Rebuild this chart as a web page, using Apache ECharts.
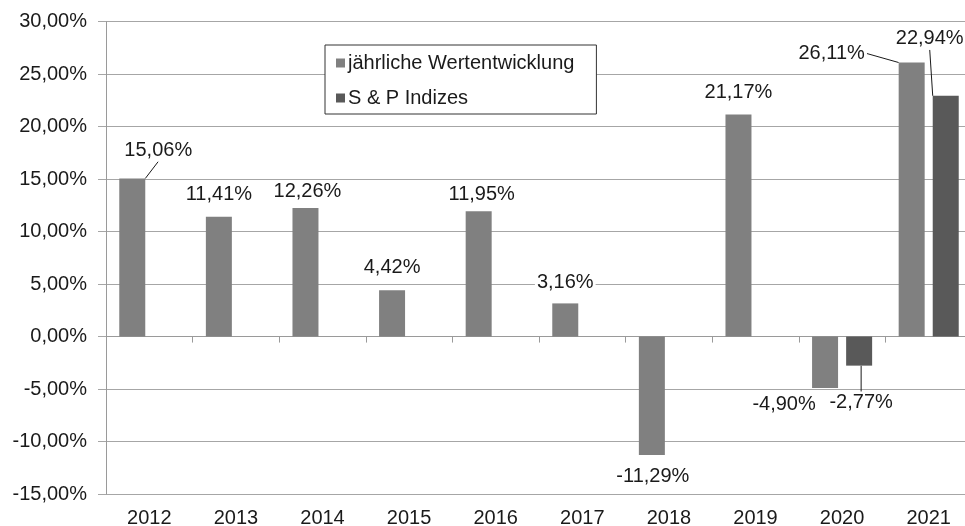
<!DOCTYPE html>
<html>
<head>
<meta charset="utf-8">
<script src="https://cdn.jsdelivr.net/npm/echarts@6/dist/echarts.min.js"></script>
<style>
  html, body { margin: 0; padding: 0; background: #fff; overflow: hidden; }
  #main { width: 965px; height: 526px; }
</style>
</head>
<body>
<div id="main"></div>
<script>
// Daten
const years = ['2012', '2013', '2014', '2015', '2016', '2017', '2018', '2019', '2020', '2021'];
const wertentwicklung = [15.06, 11.41, 12.26, 4.42, 11.95, 3.16, -11.29, 21.17, -4.90, 26.11];
const spIndizes = ['-', '-', '-', '-', '-', '-', '-', '-', -2.77, 22.94];
const seriesNames = ['jährliche Wertentwicklung', 'S & P Indizes'];

// Verschiebung der Beschriftungen gegenüber dem Balkenende (px)
const labelShift = [
  [[26, -28], [0, -22], [2, -16], [0, -23], [3, -17], [0, -21], [1, 21], [0, -22], [-41, 16], [-80, -9]],
  [[0, 0], [0, 0], [0, 0], [0, 0], [0, 0], [0, 0], [0, 0], [0, 0], [2, 37], [-16, -57]]
];
const leaderLine = [
  [true, false, false, false, false, false, false, false, false, true],
  [false, false, false, false, false, false, false, false, true, true]
];

const fmt = v => v.toFixed(2).replace('.', ',') + '%';
const font = { fontFamily: '"Liberation Sans", Arial, sans-serif', fontSize: 20, color: '#1a1a1a' };

const toData = (values, s) => values.map((v, i) => ({
  value: v,
  labelLine: { show: leaderLine[s][i] }
}));

const chart = echarts.init(document.getElementById('main'));

const barSeries = (name, values, s, color) => ({
  name: name,
  type: 'bar',
  data: toData(values, s),
  barWidth: 26,
  barGap: '31%',
  itemStyle: { color: color },
  label: {
    show: true,
    position: 'top',
    formatter: p => fmt(p.value),
    backgroundColor: '#fff',
    padding: [1, 2],
    ...font
  },
  labelLine: { show: false, lineStyle: { color: '#1a1a1a', width: 1 } },
  labelLayout: function (p) {
    const r = p.rect;
    const v = values[p.dataIndex];
    const cx = r.x + r.width / 2;
    const top = Math.min(r.y, r.y + r.height);
    const bottom = Math.max(r.y, r.y + r.height);
    const d = labelShift[s][p.dataIndex];
    return {
      x: cx + d[0],
      y: (v >= 0 ? top : bottom) + d[1],
      align: 'center',
      verticalAlign: 'middle'
    };
  }
});

const option = {
  animation: false,
  backgroundColor: '#fff',
  textStyle: font,
  grid: { left: 106, right: -7, top: 21.7, bottom: 32, outerBoundsMode: 'none', containLabel: false },
  legend: {
    data: seriesNames,
    orient: 'vertical',
    left: 325,
    top: 45,
    icon: 'rect',
    itemWidth: 9,
    itemHeight: 9,
    itemGap: 13,
    padding: [7, 22, 5, 11],
    backgroundColor: '#fff',
    borderColor: '#333',
    borderWidth: 1,
    borderRadius: 0,
    textStyle: { ...font, lineHeight: 22, padding: [0, 0, 0, -2] }
  },
  xAxis: [
    {
      type: 'category',
      data: years,
      position: 'bottom',
      axisLine: { show: false, onZero: false },
      axisTick: { show: false },
      axisLabel: { ...font, margin: 14 }
    },
    {
      type: 'category',
      data: years,
      position: 'bottom',
      axisLine: { show: true, onZero: true, lineStyle: { color: '#9a9a9a', width: 1 } },
      axisTick: { show: true, length: 6, lineStyle: { color: '#9a9a9a' } },
      axisLabel: { show: false }
    }
  ],
  yAxis: {
    type: 'value',
    min: -15,
    max: 30,
    interval: 5,
    axisLine: { show: true, lineStyle: { color: '#9a9a9a', width: 1 } },
    axisTick: { show: true, length: 8, lineStyle: { color: '#a6a6a6' } },
    splitLine: { lineStyle: { color: '#a6a6a6', width: 1 } },
    axisLabel: { ...font, margin: 19, formatter: fmt }
  },
  series: [
    barSeries(seriesNames[0], wertentwicklung, 0, '#808080'),
    barSeries(seriesNames[1], spIndizes, 1, '#595959')
  ]
};

chart.setOption(option);
</script>
</body>
</html>
